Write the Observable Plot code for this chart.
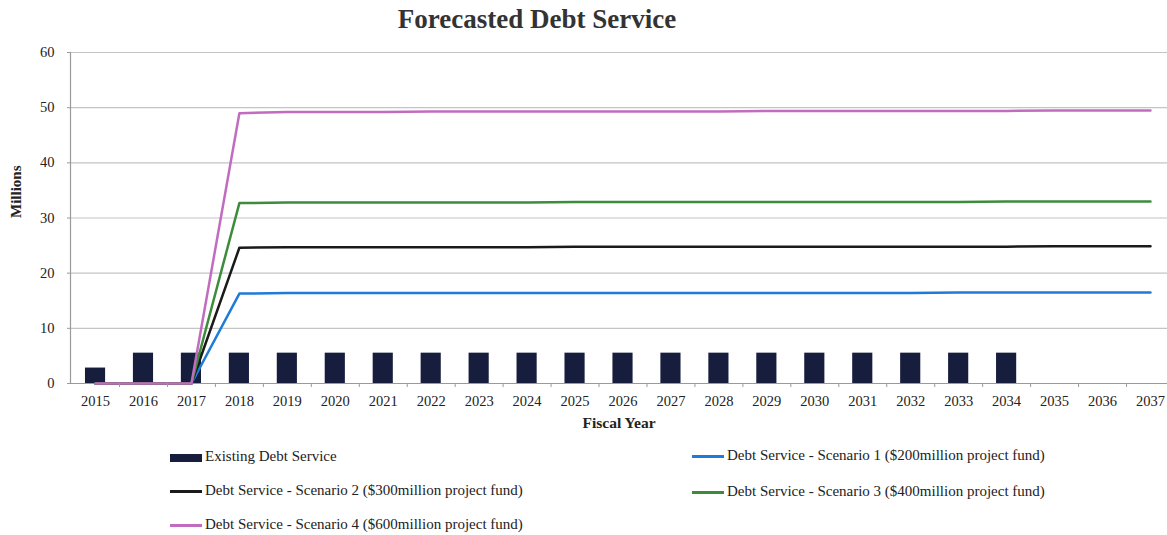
<!DOCTYPE html>
<html>
<head>
<meta charset="utf-8">
<script src="https://cdn.jsdelivr.net/npm/d3@7"></script>
<script src="https://cdn.jsdelivr.net/npm/@observablehq/plot@0.6"></script>
<style>
  html, body { margin: 0; padding: 0; background: #fff; }
  body { width: 1167px; height: 535px; position: relative; overflow: hidden; font-family: "Liberation Serif", serif; color: #222; }
  #title { position: absolute; top: 2px; left: 0; width: 1074px; text-align: center; font-size: 27px; font-weight: bold; color: #333; line-height: 34px; }
  #chart { position: absolute; top: 0; left: 0; }
  #chart svg text { font-family: "Liberation Serif", serif; }
  .lg { position: absolute; font-size: 15px; line-height: 16px; white-space: nowrap; color: #222; }
  .sw { display: inline-block; vertical-align: middle; margin-right: 3px; }
</style>
</head>
<body>
<div id="title">Forecasted Debt Service</div>
<div id="chart"></div>
<div id="legend"></div>
<script>
const years = [2015, 2016, 2017, 2018, 2019, 2020, 2021, 2022, 2023, 2024, 2025, 2026, 2027, 2028, 2029, 2030, 2031, 2032, 2033, 2034, 2035, 2036, 2037];
const existing = [2.8, 5.5, 5.5, 5.5, 5.5, 5.5, 5.5, 5.5, 5.5, 5.5, 5.5, 5.5, 5.5, 5.5, 5.5, 5.5, 5.5, 5.5, 5.5, 5.5, null, null, null];
const scenario1 = [0, 0, 0, 16.3, 16.4, 16.4, 16.4, 16.4, 16.4, 16.4, 16.4, 16.4, 16.4, 16.4, 16.4, 16.4, 16.4, 16.4, 16.5, 16.5, 16.5, 16.5, 16.5];
const scenario2 = [0, 0, 0, 24.6, 24.7, 24.7, 24.7, 24.7, 24.7, 24.7, 24.8, 24.8, 24.8, 24.8, 24.8, 24.8, 24.8, 24.8, 24.8, 24.8, 24.9, 24.9, 24.9];
const scenario3 = [0, 0, 0, 32.7, 32.8, 32.8, 32.8, 32.8, 32.8, 32.8, 32.9, 32.9, 32.9, 32.9, 32.9, 32.9, 32.9, 32.9, 32.9, 33.0, 33.0, 33.0, 33.0];
const scenario4 = [0, 0, 0, 49.0, 49.2, 49.2, 49.2, 49.3, 49.3, 49.3, 49.3, 49.3, 49.3, 49.3, 49.4, 49.4, 49.4, 49.4, 49.4, 49.4, 49.5, 49.5, 49.5];
const yTicks = [0, 10, 20, 30, 40, 50, 60];

const seriesNames = [
  "Existing Debt Service",
  "Debt Service - Scenario 1 ($200million project fund)",
  "Debt Service - Scenario 2 ($300million project fund)",
  "Debt Service - Scenario 3 ($400million project fund)",
  "Debt Service - Scenario 4 ($600million project fund)"
];
const colors = ["#161d3d", "#1f7bd9", "#1a1a1a", "#3c8c3c", "#c26cbf"];

const rows = years.map((year, i) => ({
  year, existing: existing[i], s1: scenario1[i], s2: scenario2[i], s3: scenario3[i], s4: scenario4[i]
}));
const xDomain = [2014.478, 2037.355];
const barHalf = 0.21;
const serif = "Liberation Serif";

const chart = Plot.plot({
  width: 1167,
  height: 440,
  marginLeft: 70,
  marginRight: 0,
  marginTop: 52,
  marginBottom: 57,
  style: { fontFamily: serif, fontSize: "14px", color: "#222", overflow: "visible", background: "transparent" },
  x: { type: "linear", domain: xDomain },
  y: { domain: [0, 60] },
  marks: [
    Plot.gridY(yTicks, { stroke: "#c4c4c4", strokeOpacity: 1, strokeWidth: 1.2 }),
    Plot.ruleX([xDomain[0]], { stroke: "#9a9a9a", strokeWidth: 1.2 }),
    Plot.rectY(rows.filter(d => d.existing != null), {
      x1: d => d.year - barHalf, x2: d => d.year + barHalf, y: "existing", fill: colors[0]
    }),
    Plot.ruleY([0], { stroke: "#9a9a9a", strokeWidth: 1.2 }),
    Plot.line(rows, { x: "year", y: "s1", stroke: colors[1], strokeWidth: 2.5 }),
    Plot.line(rows, { x: "year", y: "s2", stroke: colors[2], strokeWidth: 2.5 }),
    Plot.line(rows, { x: "year", y: "s3", stroke: colors[3], strokeWidth: 2.5 }),
    Plot.line(rows, { x: "year", y: "s4", stroke: colors[4], strokeWidth: 2.5 }),
    Plot.axisY(yTicks, { tickSize: 3, tickPadding: 13, stroke: "#9a9a9a", label: null, fontSize: 14.5, fontFamily: serif }),
    Plot.axisX(years.slice(0, -1).map(y => y + 0.5), { tickSize: 4, tickFormat: () => "", stroke: "#9a9a9a", label: null }),
    Plot.axisX(years, { tickSize: 0, tickPadding: 12, tickFormat: d => String(d), label: null, fontSize: 14.5, fontFamily: serif }),
    Plot.text(["Millions"], { frameAnchor: "left", dx: -54, rotate: -90, fontWeight: "bold", fontSize: 15, fontFamily: serif, fill: "#222" }),
    Plot.text(["Fiscal Year"], { frameAnchor: "bottom", dy: 44, fontWeight: "bold", fontSize: 15.5, fontFamily: serif, fill: "#222" })
  ]
});
document.getElementById("chart").appendChild(chart);

const legendItems = [
  { i: 0, left: 170, top: 448, type: "bar" },
  { i: 1, left: 692, top: 447, type: "line" },
  { i: 2, left: 170, top: 482, type: "line" },
  { i: 3, left: 692, top: 483, type: "line" },
  { i: 4, left: 170, top: 516, type: "line" }
];
const lg = document.getElementById("legend");
legendItems.forEach(it => {
  const div = document.createElement("div");
  div.className = "lg";
  div.style.left = it.left + "px";
  div.style.top = it.top + "px";
  const sw = document.createElement("span");
  sw.className = "sw";
  sw.style.width = "32px";
  sw.style.height = it.type === "bar" ? "8px" : "3px";
  sw.style.background = colors[it.i];
  div.appendChild(sw);
  div.appendChild(document.createTextNode(seriesNames[it.i]));
  lg.appendChild(div);
});
</script>
</body>
</html>
